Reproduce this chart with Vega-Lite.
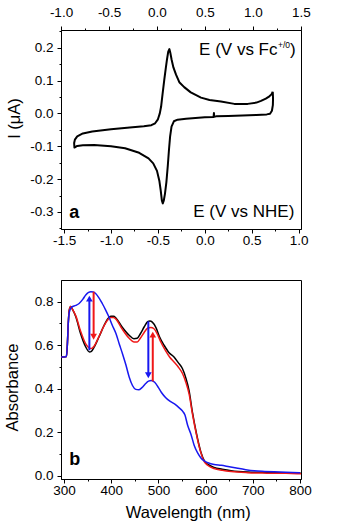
{
  "$schema": "https://vega.github.io/schema/vega-lite/v6.json",
  "background": "white",
  "padding": {"left": 3, "top": 4, "right": 0, "bottom": 0},
  "spacing": 51,
  "bounds": "flush",
  "config": {
    "font": "Liberation Sans",
    "view": {"stroke": "black", "strokeWidth": 1},
    "axis": {
      "domainColor": "black", "domainWidth": 1, "tickColor": "black", "tickWidth": 1,
      "labelColor": "black", "titleColor": "black", "labelFont": "Liberation Sans", "titleFont": "Liberation Sans",
      "labelFontSize": 13.5, "titleFontSize": 16.5, "titleFontWeight": "normal",
      "grid": false, "labelOverlap": false, "labelFlush": false, "labelBound": false
    }
  },
  "datasets": {
    "cv": [
      {"step": 0, "E": 0.724, "I": 0.066}, {"step": 1, "E": 0.727, "I": 0.045}, {"step": 2, "E": 0.725, "I": 0.025},
      {"step": 3, "E": 0.715, "I": 0.008}, {"step": 4, "E": 0.695, "I": -0.001}, {"step": 5, "E": 0.66, "I": -0.003},
      {"step": 6, "E": 0.55, "I": -0.005}, {"step": 7, "E": 0.4, "I": -0.006}, {"step": 8, "E": 0.25, "I": -0.008},
      {"step": 9, "E": 0.12, "I": -0.009}, {"step": 10, "E": 0.1, "I": -0.01}, {"step": 11, "E": 0.097, "I": 0.001},
      {"step": 12, "E": 0.093, "I": -0.011}, {"step": 13, "E": 0.0, "I": -0.012}, {"step": 14, "E": -0.1, "I": -0.014},
      {"step": 15, "E": -0.2, "I": -0.016}, {"step": 16, "E": -0.29, "I": -0.019}, {"step": 17, "E": -0.33, "I": -0.024},
      {"step": 18, "E": -0.355, "I": -0.04}, {"step": 19, "E": -0.37, "I": -0.07}, {"step": 20, "E": -0.382, "I": -0.11},
      {"step": 21, "E": -0.395, "I": -0.16}, {"step": 22, "E": -0.41, "I": -0.21}, {"step": 23, "E": -0.425, "I": -0.245},
      {"step": 24, "E": -0.438, "I": -0.266}, {"step": 25, "E": -0.448, "I": -0.274}, {"step": 26, "E": -0.458, "I": -0.265},
      {"step": 27, "E": -0.47, "I": -0.235}, {"step": 28, "E": -0.485, "I": -0.205}, {"step": 29, "E": -0.51, "I": -0.175},
      {"step": 30, "E": -0.55, "I": -0.152}, {"step": 31, "E": -0.6, "I": -0.137}, {"step": 32, "E": -0.7, "I": -0.12},
      {"step": 33, "E": -0.85, "I": -0.106}, {"step": 34, "E": -1.0, "I": -0.1}, {"step": 35, "E": -1.18, "I": -0.096},
      {"step": 36, "E": -1.3, "I": -0.097}, {"step": 37, "E": -1.36, "I": -0.099}, {"step": 38, "E": -1.39, "I": -0.104},
      {"step": 39, "E": -1.393, "I": -0.09}, {"step": 40, "E": -1.385, "I": -0.08}, {"step": 41, "E": -1.36, "I": -0.07},
      {"step": 42, "E": -1.3, "I": -0.061}, {"step": 43, "E": -1.2, "I": -0.055}, {"step": 44, "E": -1.0, "I": -0.048},
      {"step": 45, "E": -0.8, "I": -0.043}, {"step": 46, "E": -0.65, "I": -0.039}, {"step": 47, "E": -0.57, "I": -0.036},
      {"step": 48, "E": -0.53, "I": -0.03}, {"step": 49, "E": -0.5, "I": -0.018}, {"step": 50, "E": -0.48, "I": 0.0},
      {"step": 51, "E": -0.466, "I": 0.021}, {"step": 52, "E": -0.45, "I": 0.06}, {"step": 53, "E": -0.432, "I": 0.103},
      {"step": 54, "E": -0.415, "I": 0.14}, {"step": 55, "E": -0.403, "I": 0.165}, {"step": 56, "E": -0.39, "I": 0.188},
      {"step": 57, "E": -0.378, "I": 0.196}, {"step": 58, "E": -0.368, "I": 0.185}, {"step": 59, "E": -0.355, "I": 0.165},
      {"step": 60, "E": -0.335, "I": 0.14}, {"step": 61, "E": -0.307, "I": 0.118}, {"step": 62, "E": -0.272, "I": 0.095},
      {"step": 63, "E": -0.22, "I": 0.08}, {"step": 64, "E": -0.15, "I": 0.064}, {"step": 65, "E": -0.041, "I": 0.048},
      {"step": 66, "E": 0.05, "I": 0.041}, {"step": 67, "E": 0.172, "I": 0.036}, {"step": 68, "E": 0.315, "I": 0.029},
      {"step": 69, "E": 0.457, "I": 0.029}, {"step": 70, "E": 0.55, "I": 0.033}, {"step": 71, "E": 0.599, "I": 0.038},
      {"step": 72, "E": 0.65, "I": 0.045}, {"step": 73, "E": 0.688, "I": 0.052}, {"step": 74, "E": 0.71, "I": 0.058},
      {"step": 75, "E": 0.724, "I": 0.066}
    ],
    "fcRange": [{"Efc": -1.0}, {"Efc": 1.5}],
    "spectra": [
      {"trace": "t1", "wl": 294, "A": 0.546}, {"trace": "t1", "wl": 300, "A": 0.546}, {"trace": "t1", "wl": 305, "A": 0.548},
      {"trace": "t1", "wl": 307, "A": 0.6}, {"trace": "t1", "wl": 309, "A": 0.7}, {"trace": "t1", "wl": 311, "A": 0.76},
      {"trace": "t1", "wl": 314, "A": 0.778}, {"trace": "t1", "wl": 318, "A": 0.765}, {"trace": "t1", "wl": 325, "A": 0.731},
      {"trace": "t1", "wl": 335, "A": 0.654}, {"trace": "t1", "wl": 346, "A": 0.592}, {"trace": "t1", "wl": 354, "A": 0.569},
      {"trace": "t1", "wl": 358, "A": 0.572}, {"trace": "t1", "wl": 364, "A": 0.592}, {"trace": "t1", "wl": 374, "A": 0.638},
      {"trace": "t1", "wl": 385, "A": 0.692}, {"trace": "t1", "wl": 392, "A": 0.72}, {"trace": "t1", "wl": 399, "A": 0.733},
      {"trace": "t1", "wl": 405, "A": 0.733}, {"trace": "t1", "wl": 410, "A": 0.725}, {"trace": "t1", "wl": 423, "A": 0.684},
      {"trace": "t1", "wl": 438, "A": 0.646}, {"trace": "t1", "wl": 448, "A": 0.63}, {"trace": "t1", "wl": 455, "A": 0.632},
      {"trace": "t1", "wl": 462, "A": 0.654}, {"trace": "t1", "wl": 470, "A": 0.685}, {"trace": "t1", "wl": 477, "A": 0.708},
      {"trace": "t1", "wl": 482, "A": 0.711}, {"trace": "t1", "wl": 487, "A": 0.706}, {"trace": "t1", "wl": 495, "A": 0.68},
      {"trace": "t1", "wl": 502, "A": 0.64}, {"trace": "t1", "wl": 512, "A": 0.6}, {"trace": "t1", "wl": 522, "A": 0.567},
      {"trace": "t1", "wl": 533, "A": 0.546}, {"trace": "t1", "wl": 542, "A": 0.52}, {"trace": "t1", "wl": 551, "A": 0.492},
      {"trace": "t1", "wl": 558, "A": 0.45}, {"trace": "t1", "wl": 565, "A": 0.39}, {"trace": "t1", "wl": 572, "A": 0.292},
      {"trace": "t1", "wl": 580, "A": 0.2}, {"trace": "t1", "wl": 590, "A": 0.108}, {"trace": "t1", "wl": 597, "A": 0.069},
      {"trace": "t1", "wl": 605, "A": 0.052}, {"trace": "t1", "wl": 618, "A": 0.038}, {"trace": "t1", "wl": 635, "A": 0.03},
      {"trace": "t1", "wl": 654, "A": 0.023}, {"trace": "t1", "wl": 689, "A": 0.017}, {"trace": "t1", "wl": 730, "A": 0.015},
      {"trace": "t1", "wl": 770, "A": 0.013}, {"trace": "t1", "wl": 802, "A": 0.011},
      {"trace": "t2", "wl": 294, "A": 0.546}, {"trace": "t2", "wl": 300, "A": 0.546}, {"trace": "t2", "wl": 305, "A": 0.548},
      {"trace": "t2", "wl": 307, "A": 0.6}, {"trace": "t2", "wl": 309, "A": 0.7}, {"trace": "t2", "wl": 311, "A": 0.76},
      {"trace": "t2", "wl": 314, "A": 0.778}, {"trace": "t2", "wl": 318, "A": 0.765}, {"trace": "t2", "wl": 325, "A": 0.735},
      {"trace": "t2", "wl": 335, "A": 0.665}, {"trace": "t2", "wl": 346, "A": 0.606}, {"trace": "t2", "wl": 353, "A": 0.588},
      {"trace": "t2", "wl": 358, "A": 0.585}, {"trace": "t2", "wl": 364, "A": 0.597}, {"trace": "t2", "wl": 374, "A": 0.64},
      {"trace": "t2", "wl": 385, "A": 0.69}, {"trace": "t2", "wl": 392, "A": 0.715}, {"trace": "t2", "wl": 399, "A": 0.728},
      {"trace": "t2", "wl": 405, "A": 0.728}, {"trace": "t2", "wl": 410, "A": 0.72}, {"trace": "t2", "wl": 423, "A": 0.675},
      {"trace": "t2", "wl": 438, "A": 0.632}, {"trace": "t2", "wl": 448, "A": 0.615}, {"trace": "t2", "wl": 455, "A": 0.615},
      {"trace": "t2", "wl": 462, "A": 0.633}, {"trace": "t2", "wl": 470, "A": 0.66}, {"trace": "t2", "wl": 477, "A": 0.678},
      {"trace": "t2", "wl": 484, "A": 0.682}, {"trace": "t2", "wl": 490, "A": 0.677}, {"trace": "t2", "wl": 497, "A": 0.655},
      {"trace": "t2", "wl": 505, "A": 0.615}, {"trace": "t2", "wl": 515, "A": 0.575}, {"trace": "t2", "wl": 524, "A": 0.545},
      {"trace": "t2", "wl": 533, "A": 0.523}, {"trace": "t2", "wl": 542, "A": 0.5}, {"trace": "t2", "wl": 551, "A": 0.47},
      {"trace": "t2", "wl": 558, "A": 0.43}, {"trace": "t2", "wl": 565, "A": 0.375}, {"trace": "t2", "wl": 572, "A": 0.285},
      {"trace": "t2", "wl": 580, "A": 0.195}, {"trace": "t2", "wl": 590, "A": 0.105}, {"trace": "t2", "wl": 597, "A": 0.065},
      {"trace": "t2", "wl": 605, "A": 0.047}, {"trace": "t2", "wl": 618, "A": 0.033}, {"trace": "t2", "wl": 635, "A": 0.025},
      {"trace": "t2", "wl": 654, "A": 0.019}, {"trace": "t2", "wl": 689, "A": 0.014}, {"trace": "t2", "wl": 730, "A": 0.012},
      {"trace": "t2", "wl": 770, "A": 0.011}, {"trace": "t2", "wl": 802, "A": 0.009},
      {"trace": "t3", "wl": 294, "A": 0.546}, {"trace": "t3", "wl": 300, "A": 0.546}, {"trace": "t3", "wl": 305, "A": 0.548},
      {"trace": "t3", "wl": 307, "A": 0.6}, {"trace": "t3", "wl": 309, "A": 0.7}, {"trace": "t3", "wl": 311, "A": 0.75},
      {"trace": "t3", "wl": 316, "A": 0.775}, {"trace": "t3", "wl": 325, "A": 0.783}, {"trace": "t3", "wl": 332, "A": 0.792},
      {"trace": "t3", "wl": 340, "A": 0.812}, {"trace": "t3", "wl": 346, "A": 0.831}, {"trace": "t3", "wl": 352, "A": 0.843},
      {"trace": "t3", "wl": 357, "A": 0.846}, {"trace": "t3", "wl": 362, "A": 0.845}, {"trace": "t3", "wl": 367, "A": 0.838},
      {"trace": "t3", "wl": 374, "A": 0.818}, {"trace": "t3", "wl": 381, "A": 0.792}, {"trace": "t3", "wl": 388, "A": 0.763},
      {"trace": "t3", "wl": 395, "A": 0.731}, {"trace": "t3", "wl": 402, "A": 0.693}, {"trace": "t3", "wl": 410, "A": 0.654},
      {"trace": "t3", "wl": 417, "A": 0.606}, {"trace": "t3", "wl": 424, "A": 0.56}, {"trace": "t3", "wl": 431, "A": 0.51},
      {"trace": "t3", "wl": 438, "A": 0.454}, {"trace": "t3", "wl": 445, "A": 0.415}, {"trace": "t3", "wl": 452, "A": 0.397},
      {"trace": "t3", "wl": 458, "A": 0.395}, {"trace": "t3", "wl": 465, "A": 0.405}, {"trace": "t3", "wl": 472, "A": 0.422},
      {"trace": "t3", "wl": 479, "A": 0.435}, {"trace": "t3", "wl": 485, "A": 0.438}, {"trace": "t3", "wl": 492, "A": 0.43},
      {"trace": "t3", "wl": 500, "A": 0.405}, {"trace": "t3", "wl": 506, "A": 0.384}, {"trace": "t3", "wl": 515, "A": 0.36},
      {"trace": "t3", "wl": 525, "A": 0.342}, {"trace": "t3", "wl": 534, "A": 0.33}, {"trace": "t3", "wl": 544, "A": 0.312},
      {"trace": "t3", "wl": 550, "A": 0.3}, {"trace": "t3", "wl": 556, "A": 0.28}, {"trace": "t3", "wl": 562, "A": 0.231},
      {"trace": "t3", "wl": 569, "A": 0.19}, {"trace": "t3", "wl": 576, "A": 0.138}, {"trace": "t3", "wl": 583, "A": 0.105},
      {"trace": "t3", "wl": 590, "A": 0.082}, {"trace": "t3", "wl": 597, "A": 0.068}, {"trace": "t3", "wl": 605, "A": 0.06},
      {"trace": "t3", "wl": 618, "A": 0.052}, {"trace": "t3", "wl": 633, "A": 0.048}, {"trace": "t3", "wl": 650, "A": 0.041},
      {"trace": "t3", "wl": 668, "A": 0.034}, {"trace": "t3", "wl": 685, "A": 0.028}, {"trace": "t3", "wl": 703, "A": 0.023},
      {"trace": "t3", "wl": 725, "A": 0.02}, {"trace": "t3", "wl": 745, "A": 0.018}, {"trace": "t3", "wl": 770, "A": 0.016},
      {"trace": "t3", "wl": 800, "A": 0.014}
    ],
    "arrows": [
      {"trace": "t3", "wl": 353.7, "from": 0.577, "to": 0.814, "dir": "up"},
      {"trace": "t2", "wl": 362.7, "from": 0.846, "to": 0.639, "dir": "down"},
      {"trace": "t3", "wl": 478.6, "from": 0.71, "to": 0.462, "dir": "down"},
      {"trace": "t2", "wl": 488, "from": 0.434, "to": 0.649, "dir": "up"}
    ],
    "one": [{}]
  },
  "vconcat": [
    {
      "width": 240,
      "height": 199,
      "layer": [
        {
          "encoding": {
            "x": {"type": "quantitative",
              "scale": {"domain": [-1.533, 1.025], "nice": false, "zero": false},
              "axis": {"orient": "bottom", "title": null,
                "values": [-1.5, -1.25, -1, -0.75, -0.5, -0.25, 0, 0.25, 0.5, 0.75, 1],
                "labelExpr": "abs(datum.value*2 - round(datum.value*2)) < 1e-6 ? replace(format(datum.value, '.1f'), '−', '-') : ''",
                "tickSize": {"condition": {"test": "abs(datum.value*2 - round(datum.value*2)) < 1e-6", "value": 4}, "value": 2},
                "labelPadding": 0.5}},
            "y": {"type": "quantitative",
              "scale": {"domain": [-0.352, 0.254], "nice": false, "zero": false},
              "axis": {"orient": "left", "title": "I (μA)",
                "values": [-0.35, -0.3, -0.25, -0.2, -0.15, -0.1, -0.05, 0, 0.05, 0.1, 0.15, 0.2, 0.25],
                "labelExpr": "abs(datum.value*10 - round(datum.value*10)) < 1e-6 ? replace(format(datum.value, '.1f'), '−', '-') : ''",
                "tickSize": {"condition": {"test": "abs(datum.value*10 - round(datum.value*10)) < 1e-6", "value": 4}, "value": 2},
                "labelPadding": 4,
                "titleX": -47, "titleY": 88, "titleAngle": 270, "titleAlign": "center", "titleBaseline": "middle"}}
          },
          "layer": [
            {
              "data": {"name": "cv"},
              "mark": {"type": "line", "color": "black", "strokeWidth": 2, "strokeJoin": "round"},
              "encoding": {
                "x": {"field": "E", "type": "quantitative"},
                "y": {"field": "I", "type": "quantitative"},
                "order": {"field": "step", "type": "quantitative"}
              }
            },
            {
              "data": {"name": "one"},
              "mark": {"type": "text", "font": "Liberation Sans", "fontSize": 17, "align": "right", "baseline": "alphabetic", "color": "black"},
              "encoding": {"x": {"datum": 0.9536}, "y": {"datum": -0.3155}, "text": {"value": "E (V vs NHE)"}}
            },
            {
              "data": {"name": "one"},
              "mark": {"type": "text", "font": "Liberation Sans", "fontSize": 17, "align": "right", "baseline": "alphabetic", "color": "black"},
              "encoding": {"x": {"datum": 0.7745}, "y": {"datum": 0.177}, "text": {"value": "E (V vs Fc"}}
            },
            {
              "data": {"name": "one"},
              "mark": {"type": "text", "font": "Liberation Sans", "fontSize": 8.5, "align": "left", "baseline": "alphabetic", "color": "black"},
              "encoding": {"x": {"datum": 0.7798}, "y": {"datum": 0.198}, "text": {"value": "+/0"}}
            },
            {
              "data": {"name": "one"},
              "mark": {"type": "text", "font": "Liberation Sans", "fontSize": 17, "align": "left", "baseline": "alphabetic", "color": "black"},
              "encoding": {"x": {"datum": 0.9077}, "y": {"datum": 0.177}, "text": {"value": ")"}}
            },
            {
              "data": {"name": "one"},
              "mark": {"type": "text", "font": "Liberation Sans", "fontSize": 18, "fontWeight": "bold", "align": "left", "baseline": "alphabetic", "color": "black"},
              "encoding": {"x": {"datum": -1.4445}, "y": {"datum": -0.3185}, "text": {"value": "a"}}
            }
          ]
        },
        {
          "data": {"name": "fcRange"},
          "mark": {"type": "point", "opacity": 0},
          "encoding": {
            "x": {"field": "Efc", "type": "quantitative",
              "scale": {"domain": [-1.0, 1.5], "nice": false, "zero": false},
              "axis": {"orient": "top", "title": null,
                "values": [-1, -0.75, -0.5, -0.25, 0, 0.25, 0.5, 0.75, 1, 1.25, 1.5],
                "labelExpr": "abs(datum.value*2 - round(datum.value*2)) < 1e-6 ? replace(format(datum.value, '.1f'), '−', '-') : ''",
                "tickSize": {"condition": {"test": "abs(datum.value*2 - round(datum.value*2)) < 1e-6", "value": 4}, "value": 2},
                "labelPadding": 7}}
          }
        }
      ],
      "resolve": {"scale": {"x": "independent"}, "axis": {"x": "independent"}}
    },
    {
      "width": 240,
      "height": 199,
      "encoding": {
        "x": {"type": "quantitative",
          "scale": {"domain": [293.6, 802], "nice": false, "zero": false},
          "axis": {"orient": "bottom", "title": "Wavelength (nm)",
            "values": [300, 350, 400, 450, 500, 550, 600, 650, 700, 750, 800],
            "labelExpr": "datum.value % 100 == 0 ? datum.label : ''",
            "tickSize": {"condition": {"test": "datum.value % 100 == 0", "value": 4}, "value": 2},
            "labelPadding": 0.5,
            "titleX": 126.7, "titleY": 38, "titleAlign": "center", "titleBaseline": "alphabetic"}},
        "y": {"type": "quantitative",
          "scale": {"domain": [-0.015, 0.9], "nice": false, "zero": false},
          "axis": {"orient": "left", "title": "Absorbance",
            "values": [0, 0.1, 0.2, 0.3, 0.4, 0.5, 0.6, 0.7, 0.8],
            "labelExpr": "abs(datum.value*5 - round(datum.value*5)) < 1e-6 ? format(datum.value, '.1f') : ''",
            "tickSize": {"condition": {"test": "abs(datum.value*5 - round(datum.value*5)) < 1e-6", "value": 4}, "value": 2},
            "labelPadding": 4,
            "titleX": -49, "titleY": 107, "titleAngle": 270, "titleAlign": "center", "titleBaseline": "middle"}}
      },
      "layer": [
        {
          "data": {"name": "spectra"},
          "mark": {"type": "line", "strokeWidth": 1.5, "interpolate": "monotone"},
          "encoding": {
            "x": {"field": "wl", "type": "quantitative"},
            "y": {"field": "A", "type": "quantitative"},
            "color": {"field": "trace", "type": "nominal", "scale": {"domain": ["t1", "t2", "t3"], "range": ["#000000", "#f01818", "#1818f0"]}, "legend": null}
          }
        },
        {
          "data": {"name": "arrows"},
          "mark": {"type": "rule", "strokeWidth": 2},
          "encoding": {
            "x": {"field": "wl", "type": "quantitative"},
            "y": {"field": "from", "type": "quantitative"},
            "y2": {"field": "to"},
            "color": {"field": "trace", "type": "nominal", "scale": {"domain": ["t1", "t2", "t3"], "range": ["#000000", "#f01818", "#1818f0"]}, "legend": null}
          }
        },
        {
          "data": {"name": "arrows"},
          "mark": {"type": "point", "filled": true, "opacity": 1, "size": 45, "strokeWidth": 0},
          "encoding": {
            "x": {"field": "wl", "type": "quantitative"},
            "y": {"field": "to", "type": "quantitative"},
            "shape": {"field": "dir", "type": "nominal", "scale": {"domain": ["up", "down"], "range": ["triangle-up", "triangle-down"]}, "legend": null},
            "color": {"field": "trace", "type": "nominal", "scale": {"domain": ["t1", "t2", "t3"], "range": ["#000000", "#f01818", "#1818f0"]}, "legend": null}
          }
        },
        {
          "data": {"name": "one"},
          "mark": {"type": "text", "font": "Liberation Sans", "fontSize": 18, "fontWeight": "bold", "align": "left", "baseline": "alphabetic", "color": "black"},
          "encoding": {"x": {"datum": 311.2}, "y": {"datum": 0.0507}, "text": {"value": "b"}}
        }
      ]
    }
  ]
}
